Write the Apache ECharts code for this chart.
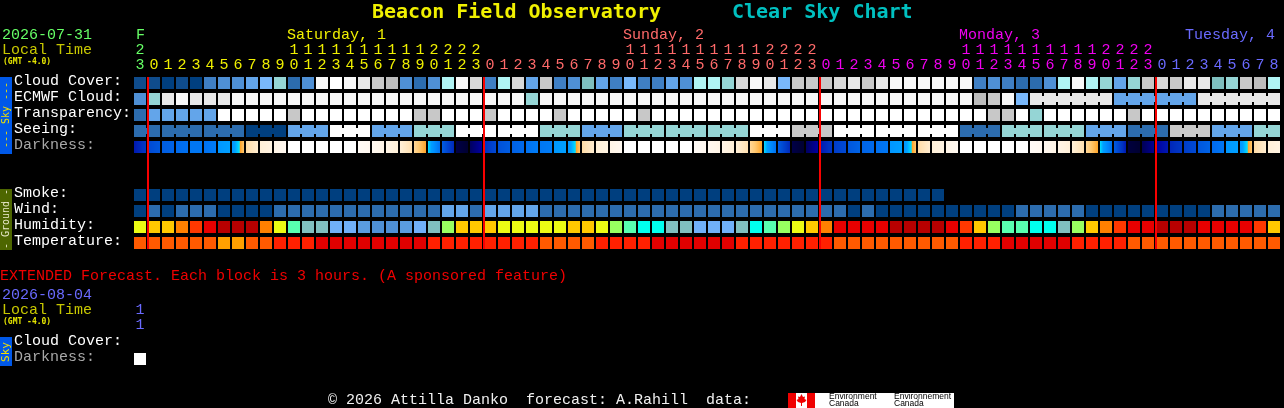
<!DOCTYPE html>
<html><head><meta charset="utf-8">
<style>html,body{margin:0;padding:0;background:#000}#c{width:1284px;height:408px}</style>
<script src="https://cdn.jsdelivr.net/npm/echarts@6/dist/echarts.min.js"></script>
</head><body><div id="c"></div>
<script>
const FONT = '"Liberation Mono", monospace';
const BOLDFONT = '"DejaVu Sans Mono", monospace';

// hour labels
const hourUnits = ['3',
 '0','1','2','3','4','5','6','7','8','9','0','1','2','3','4','5','6','7','8','9','0','1','2','3',
 '0','1','2','3','4','5','6','7','8','9','0','1','2','3','4','5','6','7','8','9','0','1','2','3',
 '0','1','2','3','4','5','6','7','8','9','0','1','2','3','4','5','6','7','8','9','0','1','2','3',
 '0','1','2','3','4','5','6','7','8'];
const hourTens = ['2',
 '','','','','','','','','','','1','1','1','1','1','1','1','1','1','1','2','2','2','2',
 '','','','','','','','','','','1','1','1','1','1','1','1','1','1','1','2','2','2','2',
 '','','','','','','','','','','1','1','1','1','1','1','1','1','1','1','2','2','2','2',
 '','','','','','','','',''];
const dayLabels = [[0,'F'],[11,'Saturday, 1'],[35,'Sunday, 2'],[59,'Monday, 3'],[75,'Tuesday, 4']];
const dayStarts = [1,25,49,73];
const dayColors = ['#66ff66','#f0f000','#ff6a6a','#f000f0','#6a6aff'];
const rowLabels = ['Cloud Cover:','ECMWF Cloud:','Transparency:','Seeing:','Darkness:','','','Smoke:','Wind:','Humidity:','Temperature:'];

// sky palette shared by the cloud, transparency, seeing, smoke and wind rows
const skyColors = ['#003f7f','#0f4c8c','#2c6cae','#3f7fc4','#4f90d5','#63a5ea','#79b8fb','#7fbfbf',
 '#95d5d5','#b0f4f4','#bcbcbc','#c8c8c8','#d8d8d8','#e8e8e8','#f8f8f8','#ffffff'];
const humidityColors = ['#4f90d5','#5a9ce0','#70b0f8','#80bfbf','#00ffee','#58ffb0','#98ff60','#ecfc14','#ffc800','#ff8000','#ff3800','#e80000','#b80000'];
const temperatureColors = ['#ffa000','#ff5a00','#ff2000','#e00000'];
const darknessScale = [[0,'#000030'],[10,'#000060'],[20,'#0000a0'],[30,'#0030c0'],[40,'#0050d8'],[50,'#0070f0'],[60,'#0090ff'],[65,'#00a0ff'],[70,'#00e0ff'],[70.5,'#ffa020'],[75,'#ffc870'],[80,'#ffe0b0'],[85,'#fff0d8'],[90,'#fff8f0'],[95,'#ffffff'],[100,'#ffffff']];

const cloud = [1,1,0,1,0,3,4,4,5,6, 8,2,4,14,15,14,13,11,10,4, 2,4,9,14,12,3,9,12,5,11, 3,4,7,5,3,6,3,3,5,4,
 9,9,8,12,14,13,6,11,11,11, 12,13,11,13,14,14,14,14,14,14, 3,4,3,2,2,4,9,14,9,8, 5,8,11,12,11,13,13,7,8,11, 10,9];
const ecmwf = [4,8,13,14,13,13,13,14,14,14, 14,14,14,14,14,14,14,14,14,14, 14,14,14,14,14,14,14,14,8,14, 14,14,14,14,14,14,14,14,14,14,
 14,14,14,14,14,14,14,14,14,14, 14,14,14,14,14,14,14,14,14,14, 10,11,14,6,13,13,13,13,13,13, 5,5,5,5,5,5,13,13,13,13, 13,13];
const transparency = [2,5,5,5,5,5,15,15,15,15, 15,11,15,15,15,15,15,15,15,15, 11,11,15,15,15,11,15,15,15,15, 11,15,15,15,15,15,11,15,15,15,
 15,15,15,15,15,15,15,15,15,15, 15,15,15,15,15,15,15,15,15,15, 15,11,11,15,8,15,15,15,15,15, 15,11,15,15,15,15,15,15,15,15, 15,15];
const seeing = [2,2,2,2,2,2,2,2,0,0, 0,5,5,5,15,15,15,5,5,5, 8,8,8,15,15,15,15,15,15,8, 8,8,5,5,5,8,8,8,8,8,
 8,8,8,8,15,15,15,11,11,11, 15,15,15,15,15,15,15,15,15,2, 2,2,8,8,8,8,8,8,5,5, 5,2,2,2,11,11,11,5,5,5, 8,8];
const darkness = [[25,32],[38,42],[44,46],[48,50],[52,52],[50,54],[62,65],[62,75],[79,84],[85,87],
 [88,90],[100,100],[100,100],[100,100],[100,100],[100,100],[92,90],[90,88],[88,85],[85,80],
 [78,71],[70,50],[44,28],[5,0],[10,20],[30,38],[40,44],[45,48],[50,54],[52,54],
 [62,65],[62,75],[79,84],[85,87],[88,90],[100,100],[100,100],[100,100],[100,100],[100,100],
 [92,90],[90,88],[88,85],[85,80],[78,71],[70,50],[44,28],[5,0],[10,20],[25,32],
 [34,38],[42,46],[46,48],[50,52],[62,65],[62,75],[79,84],[85,87],[88,90],[100,100],
 [100,100],[100,100],[100,100],[100,100],[92,90],[90,88],[88,85],[85,80],[78,71],[70,50],
 [44,25],[3,0],[8,18],[20,25],[28,32],[34,38],[42,46],[48,52],[62,65],[62,75],
 [79,84],[85,87]];
const smoke = [0,0,0,0,0,0,0,0,0,0, 0,0,0,0,0,0,0,0,0,0, 0,0,0,0,0,0,0,0,0,0, 0,0,0,0,0,0,0,0,0,0,
 0,0,0,0,0,0,0,0,0,0, 0,0,0,0,0,0,0,0];
const wind = [0,2,0,2,2,2,0,0,0,0, 2,2,2,2,2,2,2,2,2,2, 2,2,5,5,2,5,5,5,5,2, 2,2,2,2,2,2,2,2,2,2,
 2,2,2,2,2,2,2,2,2,2, 2,0,2,0,0,0,0,0,0,0, 0,0,0,2,2,2,2,2,0,0, 0,0,0,0,0,0,0,2,2,2, 2,2];
const humidity = [7,8,8,9,10,11,12,12,12,9, 7,5,3,3,2,2,1,0,0,1, 2,3,6,8,8,8,7,7,7,7, 7,8,8,7,6,5,4,4,3,3,
 2,2,2,3,4,5,6,7,8,9, 11,11,11,11,12,12,12,12,11,10, 8,6,5,5,4,4,3,6,8,9, 10,11,11,12,12,12,11,11,11,11, 10,8];
const temperature = [1,1,1,1,1,1,0,0,1,1, 2,2,2,3,3,3,3,3,3,3, 3,2,2,2,2,2,2,2,2,1, 1,1,1,2,2,2,2,3,3,3,
 3,3,3,2,2,2,2,2,2,2, 1,1,1,1,1,1,1,1,1,2, 2,2,3,3,3,3,3,2,2,2, 2,1,1,1,1,1,1,1,1,1, 1,1];

// extended forecast
const extHourUnits = ['1'], extHourTens = ['1'];
const extRowLabels = ['Cloud Cover:','Darkness:'];
const extDarkness = [[100,100]];

// --- helpers ---
function hex(c){return [1,3,5].map(k=>parseInt(c.substr(k,2),16));}
function darkColor(v){
  for(let k=1;k<darknessScale.length;k++){
    const [v0,c0]=darknessScale[k-1],[v1,c1]=darknessScale[k];
    if(v<=v1){const t=(v-v0)/(v1-v0),a=hex(c0),b=hex(c1);
      return 'rgb('+a.map((x,n)=>Math.round(x+(b[n]-x)*t)).join(',')+')';}
  }
  return '#ffffff';
}
function darkFill(pair){
  const stops=[],n=12;
  for(let k=0;k<n;k++){
    const col=darkColor(pair[0]+(pair[1]-pair[0])*(k+0.5)/n);
    stops.push({offset:k/n,color:col},{offset:(k+1)/n,color:col});
  }
  return new echarts.graphic.LinearGradient(0,0,1,0,stops);
}
function cellSeries(name,row,fills,joins,xAxisIndex,yAxisIndex){
  return {name,type:'custom',coordinateSystem:'cartesian2d',xAxisIndex:xAxisIndex||0,yAxisIndex:yAxisIndex||0,silent:true,clip:false,
    data:fills.map((f,i)=>[i,row]),
    renderItem(params,api){
      const i=params.dataIndex,c=api.coord([api.value(0),api.value(1)]),s=api.size([1,1]);
      const w=s[0]-2,h=s[1]-4,x=c[0]-w/2,y=c[1]-h/2;
      const kids=[{type:'rect',shape:{x,y,width:w,height:h},style:{fill:fills[i]}}];
      if(joins&&joins(i)) kids.push({type:'rect',shape:{x:x+w,y:y+3,width:2,height:h-6},style:{fill:fills[i]}});
      return {type:'group',children:kids};
    }};
}
const sky=a=>a.map(v=>skyColors[v]);
function hourItems(labels){
  return labels.map((t,i)=>{
    const d = i===0?0:Math.floor((i-1)/24)+1;
    return {value:t,textStyle:{color:dayColors[d],verticalAlign:'middle'}};
  });
}
const seeingJoin=i=>i<81&&i%3!==1;
const ecmwfJoin=i=>i>=64&&i<81&&ecmwf[i]===ecmwf[i+1];
const dayAxisData=Array.from({length:83},()=>({value:''}));
dayLabels.forEach(([i,t],k)=>{dayAxisData[i]={value:t,textStyle:{color:dayColors[k],align:'left',verticalAlign:'middle',padding:[0,0,0,(i===0?3:(i===75?2:0))]}};});

const labelBase={interval:0,fontFamily:FONT,fontSize:15,verticalAlign:'middle',margin:10,hideOverlap:false};
const hidden={axisLine:{show:false},axisTick:{show:false},splitLine:{show:false}};
const richStyle=c=>({color:c,fontFamily:FONT,fontSize:15,padding:[0,0,4,0]});
const rowAxisLabel={interval:0,fontFamily:FONT,fontSize:15,align:'left',verticalAlign:'middle',margin:119,hideOverlap:false,
  formatter:v=>v===''?'':(v==='Darkness:'?'{g|'+v+'}':'{w|'+v+'}'),
  rich:{w:richStyle('#ffffff'),g:richStyle('#a8a8a8')}};

function txt(text,x,y,fill,font,extra){
  return Object.assign({type:'text',x,y,silent:true,style:{text,fill,font:font||('15px '+FONT),textVerticalAlign:'middle',textAlign:'left'}},extra||{});
}
function rotTxt(text,x,y,fill,size){
  return {type:'text',x,y,rotation:Math.PI/2,silent:true,style:{text,fill,font:(size||10)+'px '+BOLDFONT,textVerticalAlign:'middle',textAlign:'center'}};
}
const sans='"Liberation Sans", sans-serif';
const graphics=[
  txt('2026-07-31',2,35,'#66ff66'),
  txt('Local Time',2,50,'#c8c800'),
  txt('(GMT -4.0)',3,62,'#e8e800','bold 8px '+BOLDFONT),
  {type:'rect',shape:{x:0,y:77,width:12,height:77},style:{fill:'#0058e8'},silent:true},
  rotTxt('--- Sky ---',6,115,'#f0e000'),
  {type:'rect',shape:{x:0,y:189,width:12,height:61},style:{fill:'#4d6600'},silent:true},
  rotTxt('- Ground -',6,219,'#e8e8c8'),
  txt('EXTENDED Forecast. Each block is 3 hours. (A sponsored feature)',0,276,'#f00000'),
  txt('2026-08-04',2,295,'#6a6aff'),
  txt('Local Time',2,310,'#c8c800'),
  txt('(GMT -4.0)',3,322,'#e8e800','bold 8px '+BOLDFONT),
  {type:'rect',shape:{x:0,y:337,width:12,height:29},style:{fill:'#0058e8'},silent:true},
  rotTxt('Sky',6,352,'#f0e000',11),
  txt('\u00a9 2026 Attilla Danko  forecast: A.Rahill  data:',328,400,'#f0f0f0'),
  {type:'rect',shape:{x:788,y:393,width:166,height:15},style:{fill:'#ffffff'},silent:true},
  {type:'rect',shape:{x:788,y:393,width:8,height:15},style:{fill:'#f00000'},silent:true},
  {type:'rect',shape:{x:807,y:393,width:8,height:15},style:{fill:'#f00000'},silent:true},
  {type:'polygon',silent:true,style:{fill:'#f00000'},shape:{points:[[801.5,394],[803,397],[805,396.5],[804.5,399],[806.5,400],[805,402],[802,403],[802,406],[801,406],[801,403],[798,402],[796.5,400],[798.5,399],[798,396.5],[800,397]]}},
  txt('Environment',829,397,'#000000','8.5px '+sans),
  txt('Canada',829,404,'#000000','8.5px '+sans),
  txt('Environnement',894,397,'#000000','8.5px '+sans),
  txt('Canada',894,404,'#000000','8.5px '+sans)
];

const series=[
  cellSeries('Cloud Cover',0,sky(cloud)),
  cellSeries('ECMWF Cloud',1,sky(ecmwf),ecmwfJoin),
  cellSeries('Transparency',2,sky(transparency)),
  cellSeries('Seeing',3,sky(seeing),seeingJoin),
  cellSeries('Darkness',4,darkness.map(darkFill)),
  cellSeries('Smoke',7,sky(smoke)),
  cellSeries('Wind',8,sky(wind)),
  cellSeries('Humidity',9,humidity.map(v=>humidityColors[v])),
  cellSeries('Temperature',10,temperature.map(v=>temperatureColors[v])),
  cellSeries('Extended Darkness',1,extDarkness.map(darkFill),null,3,1),
  {name:'Midnight',type:'custom',coordinateSystem:'cartesian2d',silent:true,clip:false,z:5,
   data:dayStarts.map(d=>[d,0]),
   renderItem(params,api){
     const s=api.size([1,1]),a=api.coord([api.value(0),0]),b=api.coord([api.value(0),10]);
     return {type:'rect',shape:{x:a[0]-s[0]/2,y:a[1]-s[1]/2+2,width:2,height:b[1]-a[1]+s[1]-4},style:{fill:'#f80000'}};
   }}
];

const chart=echarts.init(document.getElementById('c'),null,{renderer:'canvas',width:1284,height:408});
chart.setOption({
  backgroundColor:'#000000',animation:false,
  title:[
    {text:'Beacon Field Observatory',left:372,top:3,padding:0,textStyle:{color:'#f0f000',fontFamily:BOLDFONT,fontWeight:'bold',fontSize:20}},
    {text:'Clear Sky Chart',left:732,top:3,padding:0,textStyle:{color:'#00c0c0',fontFamily:BOLDFONT,fontWeight:'bold',fontSize:20}}
  ],
  grid:[
    {left:133,top:75,width:1148,height:176,outerBoundsMode:'none'},
    {left:133,top:335,width:14,height:32,outerBoundsMode:'none'}
  ],
  xAxis:[
    Object.assign({type:'category',gridIndex:0,position:'top',data:hourItems(hourUnits),axisLabel:Object.assign({},labelBase)},hidden),
    Object.assign({type:'category',gridIndex:0,position:'top',offset:15,data:hourItems(hourTens),axisLabel:Object.assign({},labelBase)},hidden),
    Object.assign({type:'category',gridIndex:0,position:'top',offset:30,boundaryGap:false,data:dayAxisData,axisLabel:Object.assign({},labelBase,{align:'left'})},hidden),
    Object.assign({type:'category',gridIndex:1,position:'top',data:extHourUnits,axisLabel:Object.assign({},labelBase,{color:'#6a6aff'})},hidden),
    Object.assign({type:'category',gridIndex:1,position:'top',offset:15,data:extHourTens,axisLabel:Object.assign({},labelBase,{color:'#6a6aff'})},hidden)
  ],
  yAxis:[
    Object.assign({type:'category',gridIndex:0,inverse:true,position:'left',data:rowLabels,axisLabel:rowAxisLabel},hidden),
    Object.assign({type:'category',gridIndex:1,inverse:true,position:'left',data:extRowLabels,axisLabel:rowAxisLabel},hidden)
  ],
  series,
  graphic:{elements:graphics}
});
</script></body></html>
